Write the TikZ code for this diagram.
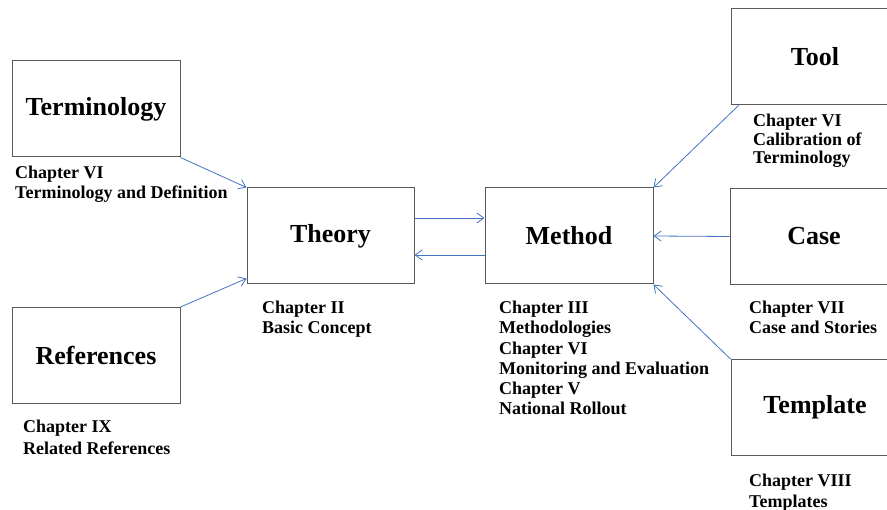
\documentclass[tikz,border=0pt]{standalone}
\usepackage{fontspec}
\setmainfont{Liberation Serif}
\usetikzlibrary{arrows.meta}
\definecolor{linkblue}{HTML}{4472C4}
\definecolor{boxline}{HTML}{595959}
\tikzset{
  x=1pt, y=-1pt,
  topic/.style={draw=boxline, line width=1pt, minimum width=168pt, minimum height=96pt,
    inner sep=0pt, font=\fontsize{26}{30}\selectfont\bfseries},
  chapters/.style={anchor=north west, inner sep=0pt, align=left,
    font=\fontsize{18}{19.5}\selectfont\bfseries},
  link/.style={draw=linkblue, line width=0.8pt, -{Straight Barb[length=7pt,width=10pt]}}
}
\begin{document}
\begin{tikzpicture}
\useasboundingbox (0,0) rectangle (887,510);

% topic boxes
\node[topic] (term)  at (96,109)    {Terminology};
\node[topic] (refs)  at (96,355.5)  {References};
\node[topic, minimum width=167pt] (theory) at (330.5,236) {Theory};
\node[topic] (method) at (569,236)  {Method};
\node[topic] (tool)  at (815,57)    {Tool};
\node[topic] (case)  at (814,236.5) {Case};
\node[topic] (templ) at (815,407.5) {Template};

% chapter references under each box
\node[chapters] (termtxt)   at (15,166)  {Chapter VI\\Terminology and Definition};
\node[chapters] (theorytxt) at (262,301) {Chapter II\\Basic Concept};
\node[chapters, font=\fontsize{18}{20.2}\selectfont\bfseries] (methodtxt) at (499,301)
  {Chapter III\\Methodologies\\Chapter VI\\Monitoring and Evaluation\\Chapter V\\National Rollout};
\node[chapters, font=\fontsize{18}{18.6}\selectfont\bfseries] (tooltxt) at (753,114)
  {Chapter VI\\Calibration of\\Terminology};
\node[chapters] (casetxt)   at (749,301) {Chapter VII\\Case and Stories};
\node[chapters, font=\fontsize{18}{21}\selectfont\bfseries] (templtxt) at (749,474)
  {Chapter VIII\\Templates};
\node[chapters, font=\fontsize{18}{22}\selectfont\bfseries] (refstxt) at (23,420)
  {Chapter IX\\Related References};

% connectors
\draw[link] (term.south east) -- (theory.north west);
\draw[link] (refs.north east) -- ([yshift=6pt]theory.south west);
\draw[link] ([yshift=18pt]theory.east) -- ([yshift=18pt]method.west);
\draw[link] ([yshift=-19pt]method.west) -- ([yshift=-19pt]theory.east);
\draw[link] ([xshift=8pt]tool.south west) -- (method.north east);
\draw[link] (case.west) -- (method.east);
\draw[link] (templ.north west) -- (method.south east);
\end{tikzpicture}
\end{document}
